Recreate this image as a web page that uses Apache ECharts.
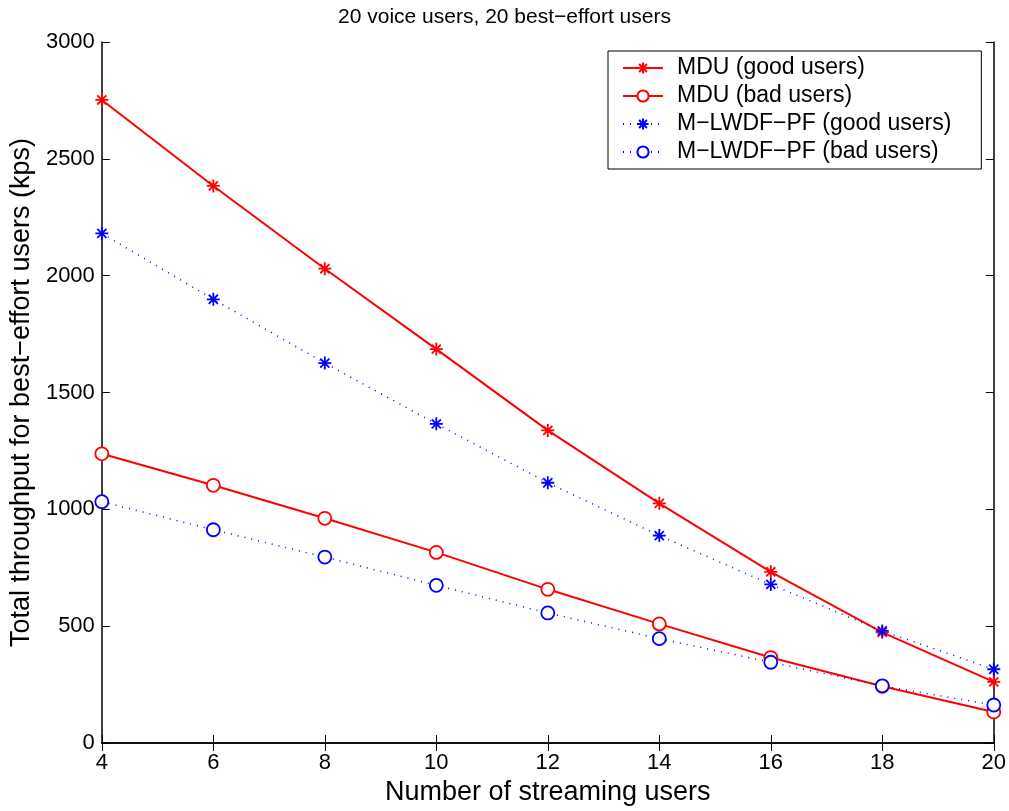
<!DOCTYPE html>
<html>
<head>
    <meta charset="utf-8">
    <title>20 voice users, 20 best-effort users</title>
    <script src="https://cdn.jsdelivr.net/npm/echarts@6/dist/echarts.min.js"></script>
</head>
<body style="margin:0;background:#fff;">
    <div id="main" style="width:1009px;height:811px;"></div>
    <script type="text/javascript">
        // 数据
        var streamingUsers = [4, 6, 8, 10, 12, 14, 16, 18, 20];
        var mduGood = [2752, 2384, 2030, 1686, 1338, 1026, 733, 474, 262];
        var mduBad = [1238, 1103, 962, 816, 658, 510, 366, 243, 133];
        var mlwdfGood = [2181, 1899, 1626, 1366, 1114, 888, 679, 480, 316];
        var mlwdfBad = [1033, 913, 796, 675, 557, 447, 346, 245, 163];

        var asterisk = 'path://M0,-10L0,10M-10,0L10,0M-7,-7L7,7M-7,7L7,-7';
        var font = 'Liberation Sans, Arial, sans-serif';

        function pairs(ys) {
            var out = [];
            for (var i = 0; i < streamingUsers.length; i++) out.push([streamingUsers[i], ys[i]]);
            return out;
        }

        function makeSeries(name, ys, color, symbol, dotted) {
            var isStar = symbol === asterisk;
            return {
                name: name,
                type: 'line',
                data: pairs(ys),
                symbol: symbol,
                symbolSize: isStar ? 13 : 13,
                showAllSymbol: true,
                lineStyle: { color: color, width: dotted ? 1.5 : 2, type: dotted ? [1, 6] : 'solid' },
                itemStyle: { color: isStar ? color : '#fff', borderColor: color, borderWidth: 1.8 },
                emphasis: { disabled: true },
                animation: false
            };
        }

        var myChart = echarts.init(document.getElementById('main'));

        var axisCommon = {
            axisLine: { lineStyle: { color: '#000', width: 1.5 } },
            axisTick: { inside: true, length: 8, lineStyle: { color: '#000' } },
            splitLine: { show: false }
        };

        var option = {
            backgroundColor: '#fff',
            textStyle: { fontFamily: font },
            title: {
                text: '20 voice users, 20 best\u2212effort users',
                left: 'center',
                top: 2,
                textStyle: { fontSize: 21, fontWeight: 'normal', color: '#000', fontFamily: font }
            },
            grid: { left: 100, right: 15, top: 42, bottom: 65 },
            legend: {
                orient: 'vertical',
                left: 608,
                top: 51,
                backgroundColor: '#fff',
                borderColor: '#000',
                borderWidth: 1,
                padding: [5, 30, 5, 14],
                itemGap: 4,
                itemWidth: 40,
                itemHeight: 14,
                textStyle: { fontSize: 23, lineHeight: 24, color: '#000', fontFamily: font, padding: [0, 0, 0, 9] },
                data: ['MDU (good users)', 'MDU (bad users)', 'M\u2212LWDF\u2212PF (good users)', 'M\u2212LWDF\u2212PF (bad users)']
            },
            xAxis: [
                Object.assign({
                    type: 'value', min: 4, max: 20, interval: 2,
                    name: 'Number of streaming users',
                    nameLocation: 'middle', nameGap: 34,
                    nameTextStyle: { fontSize: 27, color: '#000', fontFamily: font },
                    axisLabel: { fontSize: 22, color: '#000', margin: 9, fontFamily: font }
                }, axisCommon),
                Object.assign({
                    type: 'value', min: 4, max: 20, interval: 2, position: 'top',
                    axisLabel: { show: false }
                }, axisCommon)
            ],
            yAxis: [
                Object.assign({
                    type: 'value', min: 0, max: 3000, interval: 500,
                    name: 'Total throughput for best\u2212effort users (kps)',
                    nameLocation: 'middle', nameGap: 65,
                    nameTextStyle: { fontSize: 27, color: '#000', fontFamily: font },
                    axisLabel: { fontSize: 22, color: '#000', margin: 7, fontFamily: font,
                        formatter: function (v) { return String(v); } }
                }, axisCommon),
                Object.assign({
                    type: 'value', min: 0, max: 3000, interval: 500, position: 'right',
                    axisLabel: { show: false }
                }, axisCommon)
            ],
            series: [
                makeSeries('MDU (good users)', mduGood, '#ff0000', asterisk, false),
                makeSeries('MDU (bad users)', mduBad, '#ff0000', 'circle', false),
                makeSeries('M\u2212LWDF\u2212PF (good users)', mlwdfGood, '#0000ff', asterisk, true),
                makeSeries('M\u2212LWDF\u2212PF (bad users)', mlwdfBad, '#0000ff', 'circle', true)
            ]
        };

        myChart.setOption(option);
    </script>
</body>
</html>
